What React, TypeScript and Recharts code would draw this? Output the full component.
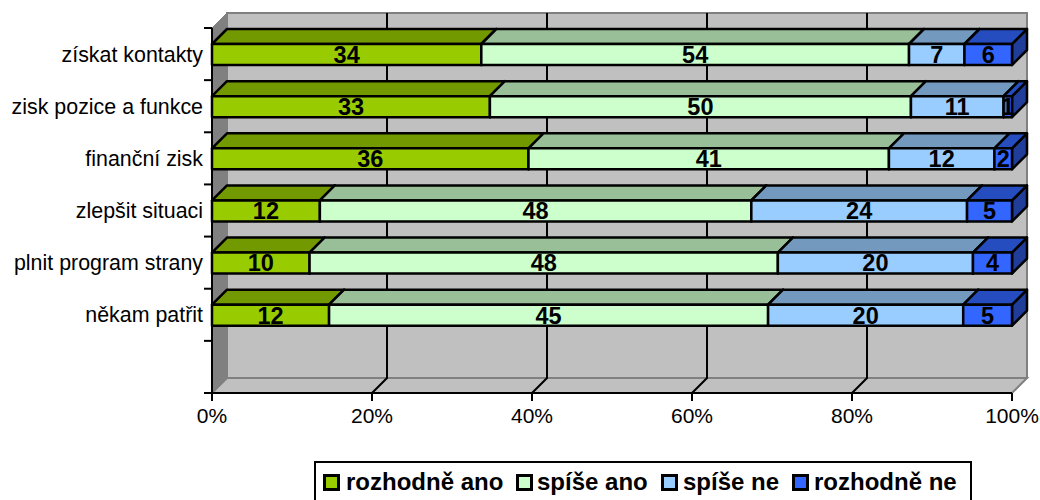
import { BarChart, Bar, XAxis, YAxis, LabelList, Customized } from 'recharts'

const categories = ['získat kontakty', 'zisk pozice a funkce', 'finanční zisk', 'zlepšit situaci', 'plnit program strany', 'někam patřit', '']
const rozhodneAno = [34, 33, 36, 12, 10, 12, null]
const spiseAno = [54, 50, 41, 48, 48, 45, null]
const spiseNe = [7, 11, 12, 24, 20, 20, null]
const rozhodneNe = [6, 1, 2, 5, 4, 5, null]
const xTicks = [0, 0.2, 0.4, 0.6, 0.8, 1]

const series = [
  { key: 'rozhodneAno', name: 'rozhodně ano', front: '#99CC00', top: '#739900', side: '#5C7A00', swatchX: 9, textX: 32 },
  { key: 'spiseAno', name: 'spíše ano', front: '#CCFFCC', top: '#99BF99', side: '#7A997A', swatchX: 202, textX: 223 },
  { key: 'spiseNe', name: 'spíše ne', front: '#99CCFF', top: '#7399BF', side: '#5C7A99', swatchX: 347, textX: 369 },
  { key: 'rozhodneNe', name: 'rozhodně ne', front: '#3366FF', top: '#264DBF', side: '#1F3D99', swatchX: 478, textX: 500 },
]

const data = categories.map((name, i) => ({
  name,
  rozhodneAno: rozhodneAno[i],
  spiseAno: spiseAno[i],
  spiseNe: spiseNe[i],
  rozhodneNe: rozhodneNe[i],
}))

const FONT = '"Liberation Sans", Arial, sans-serif'
const LEFT = 212
const TOP = 28
const WIDTH = 800
const HEIGHT = 365
const DEPTH = 15
const BOTTOM = TOP + HEIGHT
const RIGHT = LEFT + WIDTH

// back wall, side wall and floor of the 3D box
function Walls() {
  return (
    <g>
      <rect x={LEFT + DEPTH} y={TOP - DEPTH} width={WIDTH} height={HEIGHT} fill="#C0C0C0" stroke="#808080" strokeWidth={2} />
      <polygon
        points={`${LEFT},${TOP} ${LEFT + DEPTH},${TOP - DEPTH} ${LEFT + DEPTH},${BOTTOM - DEPTH} ${LEFT},${BOTTOM}`}
        fill="#808080"
        stroke="#808080"
      />
      <polygon
        points={`${LEFT},${BOTTOM} ${LEFT + DEPTH},${BOTTOM - DEPTH} ${RIGHT + DEPTH},${BOTTOM - DEPTH} ${RIGHT},${BOTTOM}`}
        fill="#C0C0C0"
        stroke="#808080"
        strokeWidth={2}
      />
      {xTicks.slice(1, -1).map((t) => {
        const x = LEFT + t * WIDTH
        return (
          <polyline
            key={t}
            points={`${x + DEPTH},${TOP - DEPTH} ${x + DEPTH},${BOTTOM - DEPTH} ${x},${BOTTOM}`}
            fill="none"
            stroke="#000"
            strokeWidth={2}
          />
        )
      })}
    </g>
  )
}

// category ticks sit on the band edges, not the band centres
function BandTicks() {
  return (
    <g>
      {categories.concat('end').map((c, i) => {
        const y = TOP + (i * HEIGHT) / categories.length
        return <line key={i} x1={LEFT - 8} x2={LEFT} y1={y} y2={y} stroke="#000" strokeWidth={2} />
      })}
    </g>
  )
}

function Box3D(props: any) {
  const { x, y, width, height, front, top, side } = props
  if (!width || width <= 0) return null
  const r = x + width
  const b = y + height
  const line = { stroke: '#000', strokeWidth: 2.5, strokeLinejoin: 'round' as const }
  return (
    <g>
      <polygon points={`${r},${y} ${r + DEPTH},${y - DEPTH} ${r + DEPTH},${b - DEPTH} ${r},${b}`} fill={side} {...line} />
      <polygon points={`${x},${y} ${x + DEPTH},${y - DEPTH} ${r + DEPTH},${y - DEPTH} ${r},${y}`} fill={top} {...line} />
      <rect x={x} y={y} width={width} height={height} fill={front} {...line} />
    </g>
  )
}

// the box runs off the bottom of the picture, as in the original
function ChartLegend() {
  return (
    <div
      style={{
        position: 'absolute',
        left: 314,
        top: 461,
        width: 658,
        height: 60,
        boxSizing: 'border-box',
        border: '2px solid #000',
        background: '#fff',
        fontFamily: FONT,
        fontWeight: 700,
        fontSize: 24,
        color: '#000',
      }}
    >
      {series.map((s) => (
        <div key={s.key}>
          <span
            style={{
              position: 'absolute',
              left: s.swatchX - 2,
              top: 11,
              width: 17,
              height: 17,
              boxSizing: 'border-box',
              border: '3px solid #000',
              background: s.front,
            }}
          />
          <span style={{ position: 'absolute', left: s.textX - 2, top: 5, whiteSpace: 'nowrap' }}>{s.name}</span>
        </div>
      ))}
    </div>
  )
}

export default function App() {
  return (
    <div style={{ position: 'absolute', left: 0, top: 0, width: 1040, height: 500, background: '#fff', overflow: 'hidden' }}>
      <BarChart
        width={1040}
        height={500}
        data={data}
        layout="vertical"
        stackOffset="expand"
        barSize={21}
        margin={{ top: TOP, left: 0, right: 1040 - RIGHT, bottom: 0 }}
      >
        <Customized component={Walls} />
        <XAxis
          type="number"
          domain={[0, 1]}
          ticks={xTicks}
          tickFormatter={(v: number) => `${Math.round(v * 100)}%`}
          tick={{ fill: '#000', fontSize: 21, fontFamily: FONT }}
          axisLine={{ stroke: '#000', strokeWidth: 2 }}
          tickLine={{ stroke: '#000', strokeWidth: 2 }}
          tickSize={8}
          tickMargin={7}
          interval={0}
          height={500 - BOTTOM}
        />
        <YAxis
          type="category"
          dataKey="name"
          width={LEFT}
          interval={0}
          tick={{ fill: '#000', fontSize: 21.4, fontFamily: FONT }}
          axisLine={{ stroke: '#000', strokeWidth: 2 }}
          tickLine={false}
          tickSize={8}
          tickMargin={1}
        />
        {series.map((s) => (
          <Bar
            key={s.key}
            dataKey={s.key}
            name={s.name}
            stackId="a"
            fill={s.front}
            isAnimationActive={false}
            shape={(p: any) => <Box3D {...p} front={s.front} top={s.top} side={s.side} />}
          >
            <LabelList dataKey={s.key} position="center" fill="#000" fontSize={23.5} fontWeight={700} fontFamily={FONT} />
          </Bar>
        ))}
        <Customized component={BandTicks} />
      </BarChart>
      <ChartLegend />
    </div>
  )
}
